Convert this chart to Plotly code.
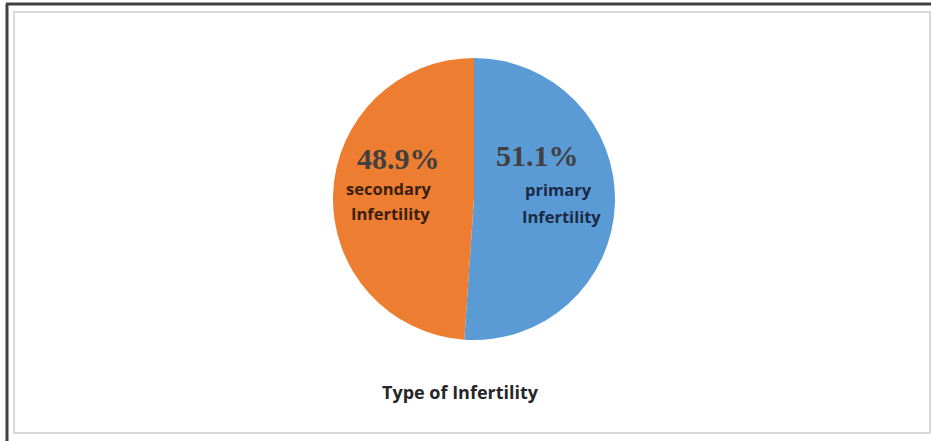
import plotly.graph_objects as go

W, H = 931, 441

# Data
labels = ["primary Infertility", "secondary Infertility"]
values = [51.1, 48.9]
colors = ["#5B9BD5", "#ED7D31"]
title_text = "Type of Infertility"


def px(x):
    return x / W


def py(y):
    return 1 - y / H


# Pie geometry in pixels
cx, cy, r = 474, 199, 141

fig = go.Figure(
    go.Pie(
        labels=labels,
        values=values,
        sort=False,
        direction="clockwise",
        rotation=0,
        marker=dict(colors=colors, line=dict(width=0)),
        textinfo="none",
        hoverinfo="label+percent",
        showlegend=False,
        domain=dict(x=[px(cx - r), px(cx + r)], y=[py(cy + r), py(cy - r)]),
    )
)


def note(x, y, text, font):
    fig.add_annotation(
        x=px(x), y=py(y), xref="paper", yref="paper",
        xanchor="center", yanchor="middle",
        text=text, showarrow=False, font=font,
    )


# Value and category labels inside the slices (one annotation per text line)
value_pos = [(537, 156), (398, 158)]
name_lines_pos = [[(558, 190), (561, 216)], [(388, 188), (390, 213)]]
name_colors = ["#1b2a45", "#3a1e0c"]
for i in range(len(values)):
    note(value_pos[i][0], value_pos[i][1], f"<b>{values[i]}%</b>",
         dict(family="Liberation Serif", size=30, color="#404040"))
    for word, (lx, ly) in zip(labels[i].split(" "), name_lines_pos[i]):
        note(lx, ly, f"<b>{word}</b>",
             dict(family="Open Sans", size=16.5, color=name_colors[i]))

note(460, 392, f"<b>{title_text}</b>",
     dict(family="Open Sans", size=18, color="#262626"))

# Frame lines
shapes = [
    dict(type="rect", x0=px(14), x1=px(930), y0=py(433), y1=py(12),
         line=dict(color="#d9d9d9", width=2)),
    dict(type="line", x0=px(6), x1=1, y0=py(4), y1=py(4),
         line=dict(color="#404040", width=3)),
    dict(type="line", x0=px(7), x1=px(7), y0=py(4), y1=0,
         line=dict(color="#404040", width=3)),
]

fig.update_layout(
    width=W, height=H,
    margin=dict(l=0, r=0, t=0, b=0),
    paper_bgcolor="white",
    plot_bgcolor="white",
    shapes=shapes,
)

fig.write_html("out.html")
